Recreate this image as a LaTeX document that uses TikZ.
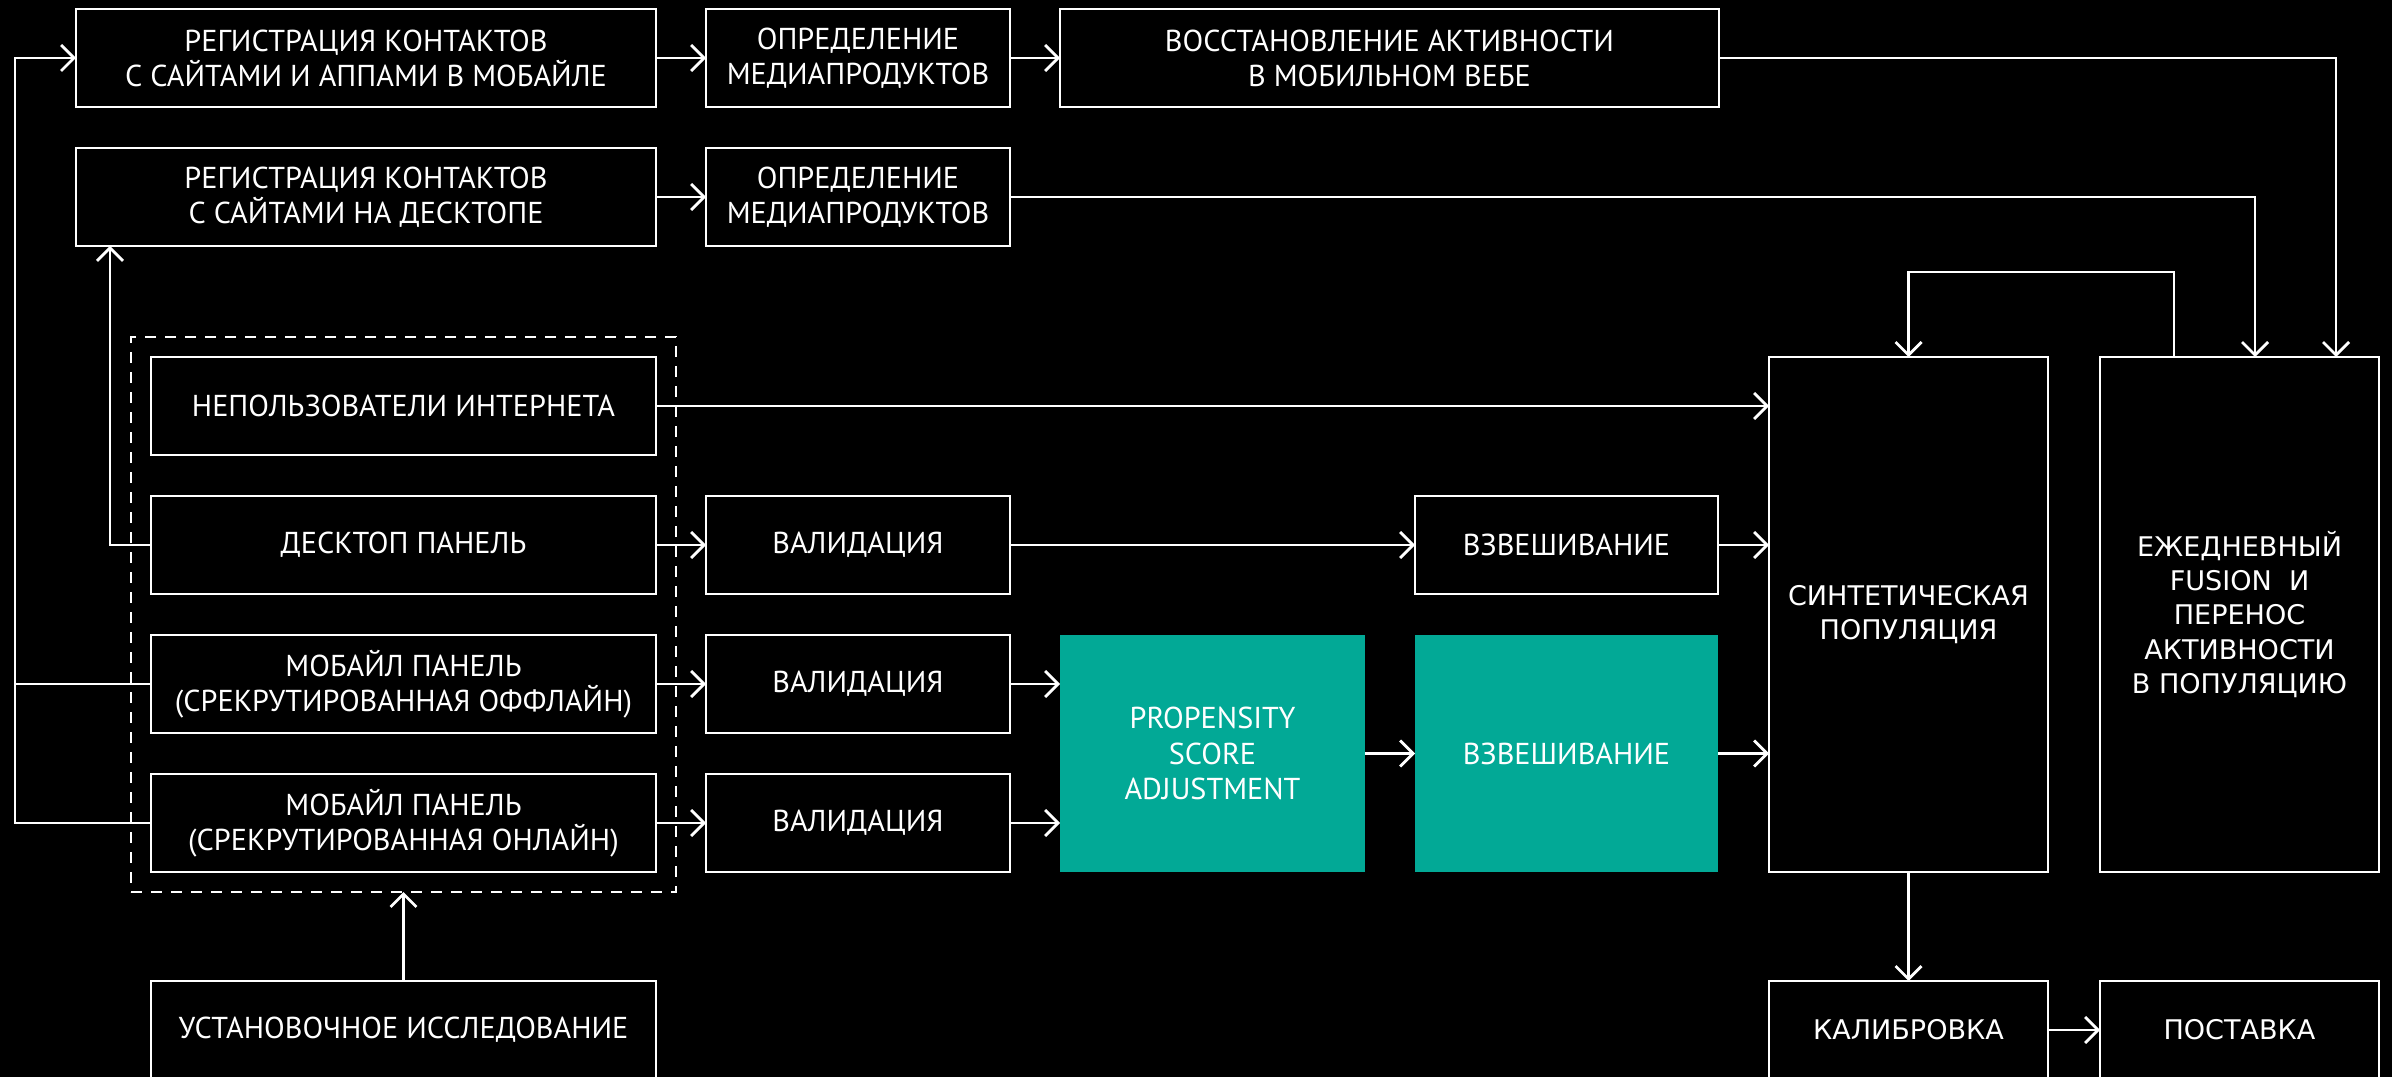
\documentclass[tikz,border=0pt]{standalone}
\usepackage{fontspec}
\usepackage{tikz}
\usetikzlibrary{arrows.meta,positioning,fit,calc}
\newfontfamily\narrowfont{PT Sans}
\newfontfamily\widefont{DejaVu Sans}
\definecolor{PanelTeal}{HTML}{02A996}
\definecolor{LineWhite}{HTML}{FFFFFF}
\tikzset{
  box/.style={draw=LineWhite,line width=0.8pt,fill=black,text=white,align=center,
              minimum height=9.8mm,inner sep=2pt,outer sep=0pt,
              font=\narrowfont\fontsize{8.6}{10}\selectfont},
  tealbox/.style={box,draw=none,fill=PanelTeal},
  widebox/.style={box,font=\widefont\fontsize{7.7}{9.8}\selectfont},
  flow/.style={-{Straight Barb[length=1.3mm,width=2.6mm]},line width=0.8pt,draw=LineWhite},
  link/.style={line width=0.8pt,draw=LineWhite},
  group/.style={draw=LineWhite,line width=0.8pt,dash pattern=on 1.1mm off 0.9mm,
                inner sep=2mm,outer sep=0pt}
}
\begin{document}
\begin{tikzpicture}[node distance=4.1mm and 5mm]
  \useasboundingbox (0,0) rectangle (23.92,-10.77);
  \fill[black] (0,0) rectangle (23.92,-10.77);

  % top: contact registration
  \node[box,minimum width=58mm,anchor=north west] (regmob) at (0.76,-0.09)
    {РЕГИСТРАЦИЯ КОНТАКТОВ\\С САЙТАМИ И АППАМИ В МОБАЙЛЕ};
  \node[box,minimum width=30.4mm,right=of regmob] (mediamob) {ОПРЕДЕЛЕНИЕ\\МЕДИАПРОДУКТОВ};
  \node[box,minimum width=65.9mm,right=of mediamob] (restore)
    {ВОССТАНОВЛЕНИЕ АКТИВНОСТИ\\В МОБИЛЬНОМ ВЕБЕ};
  \node[box,minimum width=58mm,below=of regmob] (regdesk)
    {РЕГИСТРАЦИЯ КОНТАКТОВ\\С САЙТАМИ НА ДЕСКТОПЕ};
  \node[box,minimum width=30.4mm,right=of regdesk] (mediadesk) {ОПРЕДЕЛЕНИЕ\\МЕДИАПРОДУКТОВ};

  % panels
  \node[box,minimum width=50.5mm,anchor=north east] (nonusers)
    at ($(regdesk.south east)+(0,-1.11)$) {НЕПОЛЬЗОВАТЕЛИ ИНТЕРНЕТА};
  \node[box,minimum width=50.5mm,below=of nonusers] (desktop) {ДЕСКТОП ПАНЕЛЬ};
  \node[box,minimum width=50.5mm,below=of desktop] (offline)
    {МОБАЙЛ ПАНЕЛЬ\\(СРЕКРУТИРОВАННАЯ ОФФЛАЙН)};
  \node[box,minimum width=50.5mm,below=of offline] (online)
    {МОБАЙЛ ПАНЕЛЬ\\(СРЕКРУТИРОВАННАЯ ОНЛАЙН)};
  \node[group,fit=(nonusers)(online)] (panels) {};
  \node[box,minimum width=50.5mm,below=10.9mm of online] (setup) {УСТАНОВОЧНОЕ ИССЛЕДОВАНИЕ};

  % validation and weighting
  \node[box,minimum width=30.4mm,right=of desktop] (valdesk) {ВАЛИДАЦИЯ};
  \node[box,minimum width=30.4mm,right=of offline] (valoff) {ВАЛИДАЦИЯ};
  \node[box,minimum width=30.4mm,right=of online] (valon) {ВАЛИДАЦИЯ};
  \node[tealbox,minimum width=30.5mm,minimum height=23.7mm,anchor=north west] (psa)
    at ($(valoff.north east)+(5mm,0)$) {PROPENSITY\\SCORE\\ADJUSTMENT};
  \node[tealbox,minimum width=30.3mm,minimum height=23.7mm,right=of psa] (weight2) {ВЗВЕШИВАНИЕ};
  \node[box,minimum width=30.3mm,above=of weight2] (weight1) {ВЗВЕШИВАНИЕ};

  % population
  \node[widebox,minimum width=27.9mm,minimum height=51.5mm,anchor=north west] (synth)
    at ($(weight2.east |- nonusers.north)+(5.1mm,0)$) {СИНТЕТИЧЕСКАЯ\\ПОПУЛЯЦИЯ};
  \node[widebox,minimum width=27.9mm,minimum height=51.5mm,right=5.2mm of synth] (fusion)
    {ЕЖЕДНЕВНЫЙ\\FUSION\ \ И\\ПЕРЕНОС\\АКТИВНОСТИ\\В ПОПУЛЯЦИЮ};
  \node[widebox,minimum width=27.9mm,below=10.9mm of synth] (calib) {КАЛИБРОВКА};
  \node[widebox,minimum width=27.9mm,right=5.2mm of calib] (deliver) {ПОСТАВКА};

  \coordinate (fusA) at ($(fusion.north east)+(-0.43,0)$);
  \coordinate (fusB) at ($(fusion.north)+(0.155,0)$);
  \coordinate (fusC) at ($(fusion.north)+(-0.655,0)$);
  \coordinate (loop) at ($(fusC)+(0,0.85)$);
  \coordinate (rail) at ($(regmob.west)+(-0.61,0)$);
  \coordinate (deskin) at ($(regdesk.south west)+(0.34,0)$);

  \draw[flow] (regmob) -- (mediamob);
  \draw[flow] (mediamob) -- (restore);
  \draw[flow] (regdesk) -- (mediadesk);
  \draw[flow] (restore.east) -| (fusA);
  \draw[flow] (mediadesk.east) -| (fusB);
  \draw[flow] (fusC) -- (loop) -| (synth.north);
  \draw[flow] (online.west) -| (rail) -- (regmob.west);
  \draw[link] (offline.west) -- (offline.west -| rail);
  \draw[flow] (desktop.west) -| (deskin);
  \draw[flow] (nonusers) -- (nonusers -| synth.west);
  \draw[flow] (desktop) -- (valdesk);
  \draw[flow] (valdesk) -- (weight1);
  \draw[flow] (weight1) -- (weight1 -| synth.west);
  \draw[flow] (offline) -- (valoff);
  \draw[flow] (online) -- (valon);
  \draw[flow] (valoff) -- (valoff -| psa.west);
  \draw[flow] (valon) -- (valon -| psa.west);
  \draw[flow] (psa) -- (weight2);
  \draw[flow] (weight2) -- (weight2 -| synth.west);
  \draw[flow] (synth) -- (calib);
  \draw[flow] (calib) -- (deliver);
  \draw[flow] (setup) -- (panels.south);
\end{tikzpicture}
\end{document}
